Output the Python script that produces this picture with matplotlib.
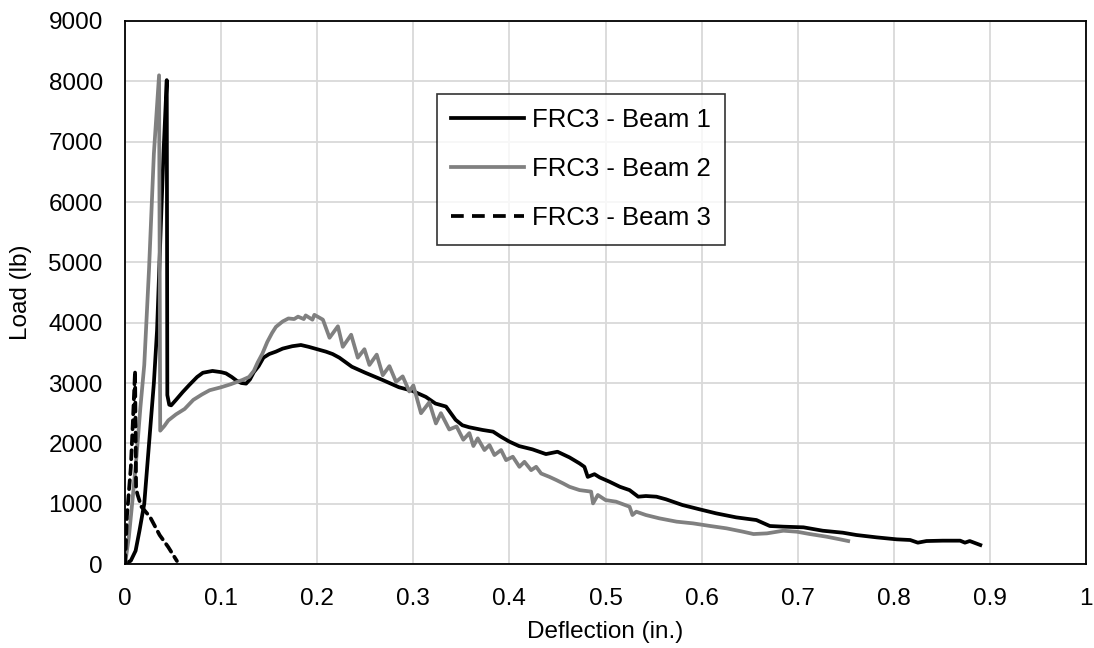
import matplotlib
matplotlib.use("Agg")
import matplotlib.pyplot as plt

plt.rcParams['font.family'] = ['Liberation Sans', 'DejaVu Sans']

# FRC3 - Beam 1 (black)
beam1_x = [0, 0.006, 0.011, 0.015, 0.020, 0.025, 0.030, 0.0333, 0.037, 0.040, 0.0434, 0.0440,
           0.046, 0.048, 0.053, 0.060, 0.067, 0.075, 0.081, 0.091, 0.100, 0.105, 0.111, 0.116,
           0.121, 0.126, 0.130, 0.134, 0.139, 0.144, 0.150, 0.157, 0.164, 0.174, 0.183, 0.191,
           0.200, 0.209, 0.216, 0.223, 0.236, 0.250, 0.268, 0.285, 0.299, 0.313, 0.323, 0.334,
           0.344, 0.351, 0.358, 0.372, 0.383, 0.391, 0.400, 0.410, 0.424, 0.438, 0.450, 0.4625,
           0.473, 0.478, 0.4815, 0.4885, 0.494, 0.504, 0.515, 0.525, 0.534, 0.542, 0.553, 0.563,
           0.580, 0.598, 0.615, 0.636, 0.657, 0.671, 0.685, 0.706, 0.726, 0.747, 0.761, 0.782,
           0.803, 0.817, 0.825, 0.834, 0.851, 0.869, 0.874, 0.879, 0.890]
beam1_y = [0, 55, 220, 550, 1000, 2000, 3000, 3870, 5500, 6800, 8020, 2800,
           2640, 2630, 2720, 2850, 2970, 3100, 3170, 3200, 3180, 3160, 3100, 3040,
           3000, 2990, 3060, 3180, 3280, 3420, 3480, 3520, 3570, 3610, 3630, 3600,
           3560, 3520, 3480, 3420, 3270, 3170, 3050, 2930, 2870, 2770, 2660, 2610,
           2390, 2300, 2267, 2222, 2194, 2111, 2028, 1955, 1900, 1822, 1861, 1767,
           1667, 1611, 1444, 1489, 1435, 1365, 1280, 1225, 1116, 1127, 1116, 1072,
           978, 906, 840, 773, 729, 630, 619, 608, 552, 519, 481, 442,
           409, 398, 354, 381, 387, 387, 354, 381, 315]

# FRC3 - Beam 2 (gray)
beam2_x = [0, 0.004, 0.008, 0.012, 0.016, 0.020, 0.025, 0.030, 0.0354, 0.0366,
           0.041, 0.045, 0.053, 0.062, 0.071, 0.080, 0.088, 0.100, 0.110, 0.122,
           0.129, 0.134, 0.138, 0.143, 0.148, 0.153, 0.157, 0.164, 0.170, 0.176,
           0.180, 0.186, 0.188, 0.195, 0.197, 0.2059, 0.2128, 0.2215, 0.2266, 0.2353,
           0.2422, 0.2491, 0.2543, 0.2619, 0.2682, 0.2751, 0.282, 0.2889, 0.2958, 0.300,
           0.308, 0.3166, 0.3235, 0.3287, 0.3374, 0.345, 0.352, 0.3583, 0.3625, 0.367,
           0.374, 0.3792, 0.3844, 0.3913, 0.3965, 0.4035, 0.4104, 0.4156, 0.4226, 0.4278,
           0.433, 0.4417, 0.449, 0.456, 0.4625, 0.473, 0.485, 0.487, 0.492, 0.500,
           0.511, 0.525, 0.528, 0.532, 0.542, 0.556, 0.574, 0.591, 0.609, 0.626,
           0.643, 0.654, 0.668, 0.685, 0.699, 0.7125, 0.730, 0.744, 0.7525]
beam2_y = [0, 450, 1100, 1800, 2600, 3300, 4900, 6800, 8100, 2210,
           2290, 2380, 2480, 2570, 2720, 2810, 2880, 2930, 2980, 3050,
           3100, 3200, 3340, 3490, 3680, 3830, 3930, 4020, 4070, 4060,
           4100, 4060, 4120, 4050, 4130, 4050, 3750, 3940, 3600, 3800,
           3420, 3560, 3300, 3470, 3130, 3280, 3020, 3110, 2860, 2960,
           2500, 2680, 2330, 2500, 2230, 2280, 2060, 2170, 1956, 2083,
           1889, 1972, 1806, 1889, 1722, 1778, 1611, 1694, 1556, 1611,
           1500, 1444, 1390, 1335, 1280, 1225, 1200, 1005, 1144, 1060,
           1033, 950, 812, 867, 812, 757, 702, 674, 630, 591,
           536, 497, 508, 552, 536, 497, 453, 409, 381]

# FRC3 - Beam 3 (dashed)
beam3_x = [0, 0.002, 0.004, 0.006, 0.008, 0.0104, 0.0115, 0.013, 0.017, 0.026, 0.036, 0.045, 0.054]
beam3_y = [0, 800, 1200, 1600, 2300, 3200, 1250, 1150, 950, 780, 480, 280, 50]

xticks = [0, 0.1, 0.2, 0.3, 0.4, 0.5, 0.6, 0.7, 0.8, 0.9, 1]
xtick_labels = ['0', '0.1', '0.2', '0.3', '0.4', '0.5', '0.6', '0.7', '0.8', '0.9', '1']
yticks = [0, 1000, 2000, 3000, 4000, 5000, 6000, 7000, 8000, 9000]

fig = plt.figure(figsize=(10.94, 6.48), dpi=100)
ax = fig.add_axes([0.1143, 0.1296, 0.8784, 0.838])

lw = 2.7
ax.plot(beam1_x, beam1_y, color='black', lw=lw, solid_joinstyle='round', label='FRC3 - Beam 1')
ax.plot(beam2_x, beam2_y, color='#808080', lw=lw, solid_joinstyle='round', label='FRC3 - Beam 2')
ax.plot(beam3_x, beam3_y, color='black', lw=lw, ls=(0, (2.4, 1.6)), dash_capstyle='round',
        label='FRC3 - Beam 3')

ax.set_xlim(0, 1)
ax.set_ylim(0, 9000)
ax.set_xticks(xticks)
ax.set_xticklabels(xtick_labels)
ax.set_yticks(yticks)
ax.tick_params(axis='both', length=0, labelsize=17.5)
ax.tick_params(axis='x', pad=17)
ax.tick_params(axis='y', pad=16)
ax.grid(True, color='#d9d9d9', lw=1.3)
ax.set_axisbelow(True)
for s in ax.spines.values():
    s.set_color('black')
    s.set_linewidth(1.3)

ax.set_xlabel('Deflection (in.)', fontsize=17.5, labelpad=8)
ax.set_ylabel('Load (lb)', fontsize=17.5, labelpad=12)

leg = ax.legend(loc='upper left', bbox_to_anchor=(0.3247, 0.8656), borderaxespad=0,
                fontsize=18.5, frameon=True, fancybox=False, edgecolor='black',
                handlelength=2.85, handletextpad=0.3, labelspacing=0.98, borderpad=0.55)
leg.get_frame().set_linewidth(1.2)
leg.get_lines()[2].set_linestyle((0, (3.4, 2.2)))
leg.get_lines()[2].set_dash_capstyle('butt')

fig.savefig('out.png', dpi=100)
